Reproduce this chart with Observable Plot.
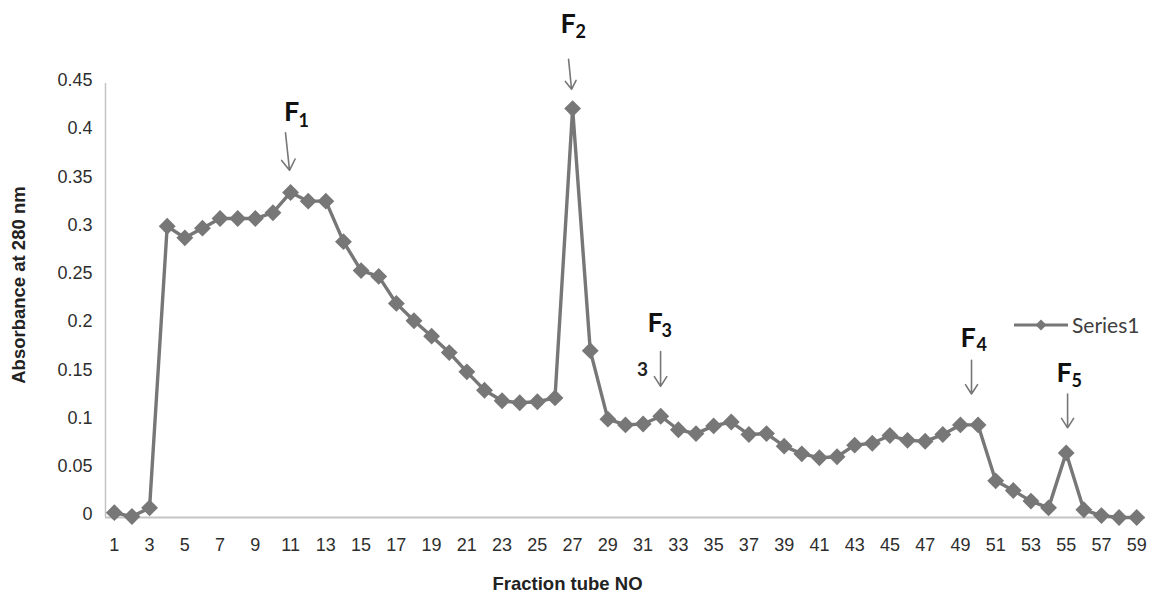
<!DOCTYPE html>
<html>
<head>
<meta charset="utf-8">
<script src="https://cdn.jsdelivr.net/npm/d3@7"></script>
<script src="https://cdn.jsdelivr.net/npm/@observablehq/plot@0.6"></script>
<style>
html, body { margin: 0; padding: 0; background: #fff; }
#wrap { position: relative; width: 1151px; height: 594px; }
#legend { position: absolute; left: 1014px; top: 312px; display: flex; align-items: center;
  font-family: Lato, "Open Sans", sans-serif; font-size: 21px; color: #404040; line-height: 26px; }
#legend svg { display: block; margin-right: 2px; }
</style>
</head>
<body>
<div id="wrap"><div id="legend"></div></div>
<script>
// Fraction tube numbers (categories)
const tubes = [1,2,3,4,5,6,7,8,9,10,11,12,13,14,15,16,17,18,19,20,
  21,22,23,24,25,26,27,28,29,30,31,32,33,34,35,36,37,38,39,40,
  41,42,43,44,45,46,47,48,49,50,51,52,53,54,55,56,57,58,59];

// Absorbance at 280 nm (Series1)
const absorbance = [0.005,0.001,0.010,0.302,0.290,0.300,0.310,0.310,0.310,0.316,
  0.337,0.328,0.328,0.286,0.256,0.250,0.222,0.204,0.188,0.171,
  0.151,0.132,0.121,0.119,0.120,0.124,0.424,0.173,0.102,0.096,
  0.097,0.105,0.091,0.087,0.095,0.099,0.086,0.087,0.074,0.066,
  0.062,0.063,0.075,0.077,0.085,0.080,0.079,0.086,0.096,0.096,
  0.038,0.028,0.017,0.010,0.067,0.008,0.002,0.000,0.000];

// Tick labels
const xTicks = [1,3,5,7,9,11,13,15,17,19,21,23,25,27,29,31,33,35,37,39,41,43,45,47,49,51,53,55,57,59];
const yTicks = [0,0.05,0.1,0.15,0.2,0.25,0.3,0.35,0.4,0.45];

// Peak annotations (in data units: tube number, absorbance)
const peakSubs   = ["1", "2", "3", "4", "5"];
const peakFx     = [10.62, 26.31, 31.25, 49.00, 54.45];
const peakFy     = [0.411, 0.502, 0.192, 0.177, 0.140];
const peakSubX   = [11.45, 27.16, 32.04, 49.91, 55.30];
const peakSubY   = [0.405, 0.497, 0.187, 0.173, 0.135];
const arrowX1    = [10.71, 26.77, 31.99, 49.63, 55.08];
const arrowY1    = [0.399, 0.475, 0.172, 0.163, 0.128];
const arrowX2    = [10.94, 26.94, 31.99, 49.63, 55.08];
const arrowY2    = [0.360, 0.444, 0.136, 0.128, 0.093];
const strayLabel = ["3"];
const strayX     = [30.96];
const strayY     = [0.153];

const data = tubes.map((t, i) => ({tube: t, abs: absorbance[i]}));
const peaks = peakSubs.map((s, i) => ({
  sub: s, fx: peakFx[i], fy: peakFy[i], sx: peakSubX[i], sy: peakSubY[i],
  x1: arrowX1[i], y1: arrowY1[i], x2: arrowX2[i], y2: arrowY2[i]
}));
const stray = strayLabel.map((s, i) => ({s, x: strayX[i], y: strayY[i]}));

const gray = "#777777";
const axisGray = "#c4c4c4";
const textCol = "#2e2e2e";

const chart = Plot.plot({
  width: 1151,
  height: 594,
  marginLeft: 105,
  marginRight: 6,
  marginTop: 83,
  marginBottom: 77,
  style: {fontFamily: "'Liberation Sans', Arial, sans-serif", fontSize: "18px", color: textCol, background: "#fff", overflow: "visible"},
  x: {type: "linear", domain: [0.5, 59.5]},
  y: {domain: [0, 0.45]},
  marks: [
    Plot.ruleX([0.5], {y1: 0, y2: 0.45, stroke: axisGray, strokeWidth: 1.5}),
    Plot.ruleY([0], {x1: 0.5, x2: 59.5, stroke: axisGray, strokeWidth: 2}),
    Plot.axisX(xTicks, {tickSize: 0, tickPadding: 21, label: null, fill: textCol, fontSize: 18}),
    Plot.axisY(yTicks, {tickSize: 0, tickPadding: 13, label: null, fill: textCol, fontSize: 18, dy: -3,
      tickFormat: d => String(d)}),
    Plot.line(data, {x: "tube", y: "abs", stroke: gray, strokeWidth: 3.4}),
    Plot.dot(data, {x: "tube", y: "abs", symbol: "diamond2", r: 7.6, fill: gray}),
    Plot.arrow(peaks, {x1: "x1", y1: "y1", x2: "x2", y2: "y2", stroke: gray, strokeWidth: 1.6,
      headLength: 13, headAngle: 65}),
    Plot.text(peaks, {x: "fx", y: "fy", text: () => "F", textAnchor: "start", lineAnchor: "bottom",
      fontFamily: "Lato, 'Open Sans', sans-serif", fontWeight: 700, fontSize: 27, fill: "#111"}),
    Plot.text(peaks, {x: "sx", y: "sy", text: "sub", textAnchor: "start", lineAnchor: "bottom",
      fontFamily: "Lato, 'Open Sans', sans-serif", fontWeight: 700, fontSize: 18, fill: "#111"}),
    Plot.text(stray, {x: "x", y: "y", text: "s", textAnchor: "middle", lineAnchor: "middle",
      fontFamily: "Lato, 'Open Sans', sans-serif", fontWeight: 700, fontSize: 19, fill: "#222"}),
    Plot.text(["Fraction tube NO"], {x: 26.71, frameAnchor: "bottom", dy: 67, lineAnchor: "middle",
      textAnchor: "middle", fontWeight: 700, fontSize: 18.5, fill: "#222"}),
    Plot.text(["Absorbance at 280 nm"], {y: 0.241, frameAnchor: "left", dx: -86.5, rotate: -90,
      textAnchor: "middle", lineAnchor: "middle", fontWeight: 700, fontSize: 18.5, fill: "#222"})
  ]
});
document.getElementById("wrap").prepend(chart);

// Legend
const lg = d3.select("#legend");
const ls = lg.append("svg").attr("width", 56).attr("height", 20);
ls.append("line").attr("x1", 0).attr("x2", 54).attr("y1", 10).attr("y2", 10)
  .attr("stroke", gray).attr("stroke-width", 3);
ls.append("path").attr("d", "M27,4.5L32.5,10L27,15.5L21.5,10Z").attr("fill", gray);
lg.append("span").text("Series1");
</script>
</body>
</html>
